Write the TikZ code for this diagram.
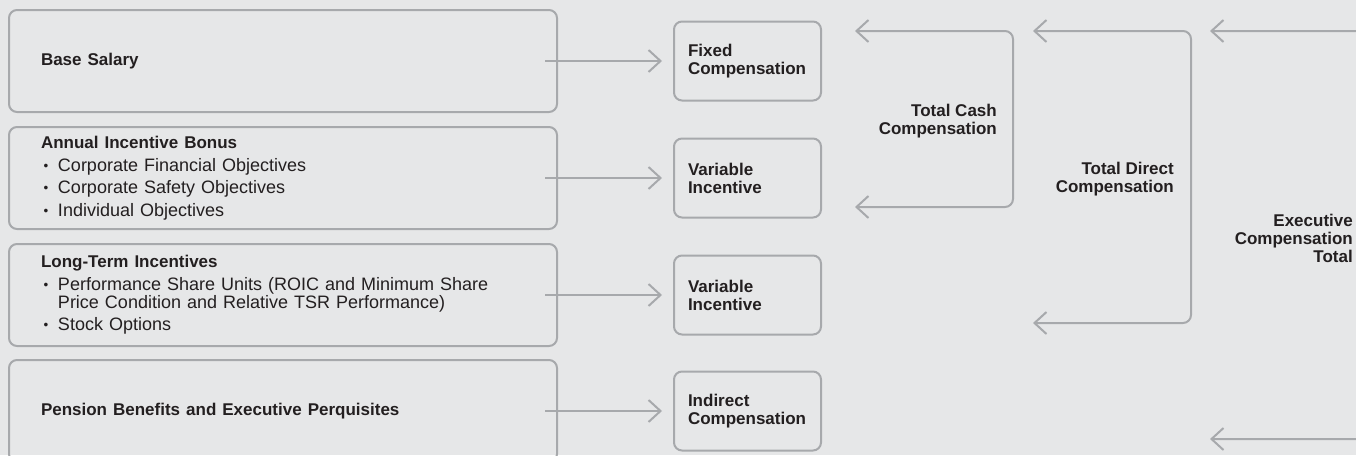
\documentclass[tikz,border=0pt]{standalone}
\usepackage{fontspec}
\setmainfont{Liberation Sans}
\usetikzlibrary{arrows.meta}
\definecolor{paper}{HTML}{E6E7E8}
\definecolor{rule}{HTML}{A7A9AC}
\definecolor{ink}{HTML}{231F20}
\newcommand{\hd}[1]{{\fontsize{17}{18}\selectfont\bfseries #1}}
\newcommand{\bul}{\makebox[17pt][l]{\hspace{2.5pt}\raisebox{1pt}{\scalebox{0.75}{\textbullet}}}}

\begin{document}
\begin{tikzpicture}[x=1pt, y=-1pt,
  srcbox/.style={shape=rectangle, rounded corners=8pt, draw=rule, line width=2pt, minimum width=548pt, minimum height=102pt, text width=484pt, inner xsep=32pt, align=left, text=ink, font=\fontsize{18}{18}\selectfont},
  kindbox/.style={shape=rectangle, rounded corners=8pt, draw=rule, line width=2pt, minimum width=147pt, minimum height=79pt, text width=119pt, inner xsep=14pt, align=left, text=ink, font=\fontsize{17}{18}\selectfont\bfseries},
  sumlabel/.style={anchor=east, align=right, inner sep=0pt, text=ink, font=\fontsize{17}{18}\selectfont\bfseries},
  link/.style={draw=rule, line width=2pt, shorten >=11pt, -{Straight Barb[length=12pt,width=22pt]}},
  bracket/.style={draw=rule, line width=2pt, rounded corners=8pt, {Straight Barb[length=12pt,width=22pt]}-{Straight Barb[length=12pt,width=22pt]}}]

\useasboundingbox (0,0) rectangle (1356,455);
\fill[paper] (0,0) rectangle (1356,455);
\clip (0,0) rectangle (1356,455);

% what is paid
\node[name=base, srcbox] at (283,61) {\hd{Base Salary}};
\node[name=aib, srcbox] at (283,178) {\hd{Annual Incentive Bonus}\\[4.5pt]
  \bul Corporate Financial Objectives\\[4.5pt]
  \bul Corporate Safety Objectives\\[4.5pt]
  \bul Individual Objectives};
\node[name=lti, srcbox] at (283,295) {\hd{Long-Term Incentives}\\[4.5pt]
  \bul Performance Share Units (ROIC and Minimum Share\\
  \hspace*{17pt}Price Condition and Relative TSR Performance)\\[4.5pt]
  \bul Stock Options};
\node[name=pen, srcbox] at (283,411) {\hd{Pension Benefits and Executive Perquisites}};

% kind of pay
\node[name=fixed, kindbox] at (747.5,61) {Fixed\\Compensation};
\node[name=varA, kindbox] at (747.5,178) {Variable\\Incentive};
\node[name=varB, kindbox] at (747.5,295) {Variable\\Incentive};
\node[name=indirect, kindbox] at (747.5,411) {Indirect\\Compensation};

\draw[link] ([xshift=-13pt]base.east) -- (fixed.west);
\draw[link] ([xshift=-13pt]aib.east) -- (varA.west);
\draw[link] ([xshift=-13pt]lti.east) -- (varB.west);
\draw[link] ([xshift=-13pt]pen.east) -- (indirect.west);

% totals
\node[name=cash, sumlabel] at (997,121) {Total Cash\\Compensation};
\node[name=direct, sumlabel] at (1174,179) {Total Direct\\Compensation};
\node[name=exec, sumlabel] at (1353,238) {Executive\\Compensation\\Total};

\coordinate (cashT) at (855,31);
\coordinate (cashB) at (855,207);
\coordinate (cashR) at (1013,0);
\coordinate (directT) at (1033,31);
\coordinate (directB) at (1033,323);
\coordinate (directR) at (1191,0);
\coordinate (execT) at (1210,31);
\coordinate (execB) at (1210,439);
\coordinate (execR) at (1385,0);

\draw[bracket] (cashT) -- (cashT -| cashR) -- (cashB -| cashR) -- (cashB);
\draw[bracket] (directT) -- (directT -| directR) -- (directB -| directR) -- (directB);
\draw[bracket] (execT) -- (execT -| execR) -- (execB -| execR) -- (execB);

\end{tikzpicture}
\end{document}
